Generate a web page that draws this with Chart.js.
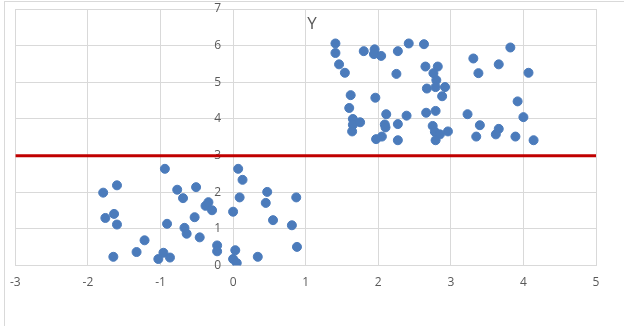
<!DOCTYPE html>
<html>
<head>
<meta charset="utf-8">
<script src="https://cdn.jsdelivr.net/npm/chart.js@4"></script>
<style>
  body { margin: 0; background: #fff; }
  #frame { position: absolute; left: 4px; top: 1px; width: 660px; height: 360px; border: 1px solid #d9d9d9; }
  #wrap { position: absolute; left: 0; top: 0; width: 624px; height: 326px; }
</style>
</head>
<body>
<div id="frame"></div>
<div id="wrap"><canvas id="chart"></canvas></div>
<script>
// scatter points
const xValues = [
  -1.79, -1.60, -1.76, -1.64, -1.60, -1.65, -1.22, -1.33, -1.03, -0.96,
  -0.87, -0.94, -0.91, -0.77, -0.69, -0.67, -0.64, -0.51, -0.53, -0.46,
  -0.38, -0.34, -0.29, -0.22, -0.22, 0.00, 0.07, 0.13, 0.09, 0.03,
  0.00, 0.05, 0.34, 0.47, 0.45, 0.55, 0.81, 0.87, 0.88,
  1.41, 1.41, 1.46, 1.54, 1.62, 1.60, 1.65, 1.65, 1.64, 1.75,
  1.80, 1.95, 1.94, 2.04, 1.96, 1.97, 2.05, 2.11, 2.09, 2.10,
  2.27, 2.25, 2.27, 2.27, 2.39, 2.42, 2.63, 2.65, 2.82, 2.76,
  2.80, 2.79, 2.67, 2.92, 2.88, 2.66, 2.79, 2.75, 2.78, 2.85,
  2.79, 2.96, 3.23, 3.31, 3.38, 3.40, 3.35, 3.66, 3.66, 3.62,
  3.82, 3.92, 4.00, 3.89, 4.07, 4.14
];
const yValues = [
  1.99, 2.19, 1.30, 1.41, 1.12, 0.24, 0.69, 0.37, 0.18, 0.35,
  0.22, 2.64, 1.14, 2.07, 1.84, 1.03, 0.87, 2.14, 1.32, 0.77,
  1.63, 1.73, 1.51, 0.55, 0.39, 1.47, 2.64, 2.34, 1.86, 0.42,
  0.18, 0.07, 0.24, 2.01, 1.71, 1.24, 1.10, 1.86, 0.51,
  6.06, 5.80, 5.49, 5.26, 4.65, 4.30, 4.00, 3.84, 3.66, 3.91,
  5.85, 5.90, 5.77, 5.72, 4.58, 3.45, 3.52, 4.13, 3.85, 3.77,
  5.85, 5.23, 3.86, 3.42, 4.09, 6.06, 6.04, 5.43, 5.43, 5.25,
  5.06, 4.87, 4.83, 4.87, 4.62, 4.17, 4.22, 3.81, 3.65, 3.58,
  3.42, 3.66, 4.13, 5.65, 5.25, 3.83, 3.52, 5.49, 3.73, 3.58,
  5.95, 4.48, 4.05, 3.52, 5.26, 3.42
];
const threshold = 3;
const xRange = [-3, 5];
const yRange = [0, 7];
const titleText = "Y";

const points = xValues.map((x, i) => ({ x: x, y: yValues[i] }));
const redLine = xRange.map(x => ({ x: x, y: threshold }));

const titleOverlay = {
  id: "titleOverlay",
  afterDraw(chart) {
    const c = chart.ctx;
    c.save();
    c.font = "17px 'Open Sans', sans-serif";
    c.fillStyle = "#595959";
    c.textAlign = "center";
    c.textBaseline = "middle";
    c.fillText(titleText, 312, 24);
    c.restore();
  }
};

new Chart(document.getElementById("chart"), {
  type: "scatter",
  data: {
    datasets: [
      {
        type: "line",
        data: redLine,
        borderColor: "#c00000",
        borderWidth: 3,
        pointRadius: 0,
        order: 2
      },
      {
        data: points,
        backgroundColor: "#4b7bbb",
        borderColor: "#4b7bbb",
        pointRadius: 4.5,
        order: 1
      }
    ]
  },
  options: {
    responsive: true,
    maintainAspectRatio: false,
    animation: false,
    layout: { padding: { left: 10, right: 28, top: 9, bottom: 26 } },
    plugins: {
      legend: { display: false },
      tooltip: { enabled: false }
    },
    scales: {
      x: {
        type: "linear",
        min: xRange[0],
        max: xRange[1],
        grid: { color: "#d9d9d9", drawTicks: false },
        border: { color: "#d9d9d9" },
        ticks: {
          stepSize: 1,
          padding: 10,
          color: "#595959",
          font: { family: "'Open Sans', sans-serif", size: 12 }
        }
      },
      y: {
        type: "linear",
        position: { x: 0 },
        min: yRange[0],
        max: yRange[1],
        afterFit: s => { s.paddingTop = 0; s.paddingBottom = 0; },
        grid: { color: "#d9d9d9", drawTicks: false },
        border: { color: "#d9d9d9" },
        ticks: {
          stepSize: 1,
          // padding is ignored for a crossing axis, so pad with an em space
          callback: v => v + "\u2003",
          color: "#595959",
          font: { family: "'Open Sans', sans-serif", size: 12 }
        }
      }
    }
  },
  plugins: [titleOverlay]
});
</script>
</body>
</html>
